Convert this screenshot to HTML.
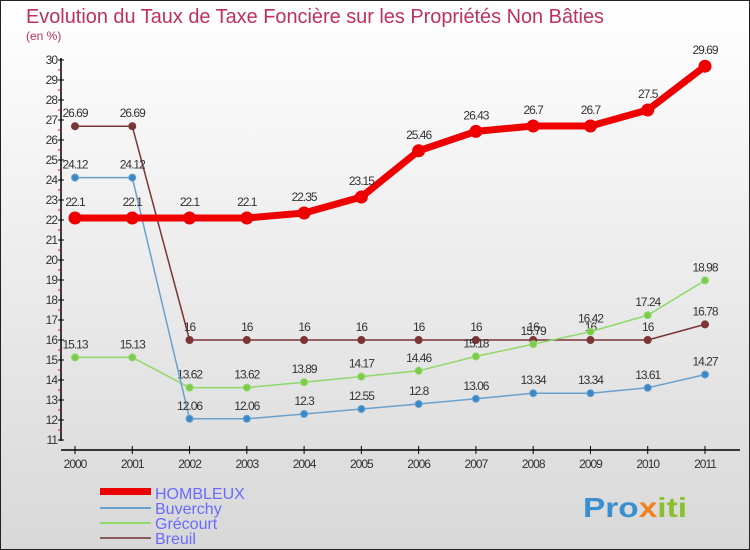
<!DOCTYPE html>
<html><head><meta charset="utf-8"><style>
body{margin:0;}
svg{display:block;font-family:"Liberation Sans",sans-serif;}
</style></head><body>
<svg width="750" height="550" viewBox="0 0 750 550">
<defs><linearGradient id="bg" x1="0" y1="0" x2="0" y2="1"><stop offset="0" stop-color="#ffffff"/><stop offset="1" stop-color="#d8d8d8"/></linearGradient></defs>
<rect x="0.5" y="0.5" width="749" height="549" fill="url(#bg)" stroke="#222"/>
<text x="26" y="23" font-size="20" fill="#c0305a" textLength="578" lengthAdjust="spacingAndGlyphs">Evolution du Taux de Taxe Foncière sur les Propriétés Non Bâties</text>
<text x="26" y="40" font-size="12" fill="#c0305a">(en %)</text>
<g id="axes"></g>
<g id="series"></g>
<g>
<rect x="100" y="488" width="51" height="7" fill="#e00"/>
<text x="155" y="499" font-size="16" fill="#6a6aff">HOMBLEUX</text>
<line x1="100" y1="508" x2="151" y2="508" stroke="#6aa0cc" stroke-width="2"/>
<text x="155" y="514" font-size="16" fill="#6a6aff">Buverchy</text>
<line x1="100" y1="523" x2="151" y2="523" stroke="#8fd86a" stroke-width="2"/>
<text x="155" y="529" font-size="16" fill="#6a6aff">Grécourt</text>
<line x1="100" y1="538" x2="151" y2="538" stroke="#8a5a5a" stroke-width="2"/>
<text x="155" y="544" font-size="16" fill="#6a6aff">Breuil</text>
</g>
<text x="583" y="517" font-size="28" font-weight="bold" textLength="104" lengthAdjust="spacingAndGlyphs"><tspan fill="#3a8fd0">Pro</tspan><tspan fill="#f08020">x</tspan><tspan fill="#8ac030">iti</tspan></text>
</svg>
<script>
const years=[2000,2001,2002,2003,2004,2005,2006,2007,2008,2009,2010,2011];
const hombleux=[22.1,22.1,22.1,22.1,22.35,23.15,25.46,26.43,26.7,26.7,27.5,29.69];
const buverchy=[24.12,24.12,12.06,12.06,12.3,12.55,12.8,13.06,13.34,13.34,13.61,14.27];
const grecourt=[15.13,15.13,13.62,13.62,13.89,14.17,14.46,15.18,15.79,16.42,17.24,18.98];
const breuil=[26.69,26.69,16,16,16,16,16,16,16,16,16,16.78];
const yTicks=[11,12,13,14,15,16,17,18,19,20,21,22,23,24,25,26,27,28,29,30];
const NS="http://www.w3.org/2000/svg";
const X=i=>75+i*(630/11);
const Y=v=>440-(v-11)*(380/19);
function mk(tag,attrs,parent,txt){const e=document.createElementNS(NS,tag);for(const k in attrs)e.setAttribute(k,attrs[k]);if(txt!==undefined)e.textContent=txt;parent.appendChild(e);return e;}
const ax=document.getElementById('axes');
let e=mk('line',{x1:61,y1:58,x2:61,y2:441,stroke:'#000','stroke-width':1.5},ax);


e=mk('line',{x1:61,y1:450,x2:740,y2:450,stroke:'#000','stroke-width':1.5},ax);


yTicks.forEach(v=>{
 mk('line',{x1:58,y1:Y(v),x2:64,y2:Y(v),stroke:'#000'},ax);
 if(v<30)mk('line',{x1:58,y1:Y(v+0.5),x2:61,y2:Y(v+0.5),stroke:'#e00'},ax);
 e=mk('text',{x:57,y:Y(v)+4,'font-size':12,fill:'#333','text-anchor':'end','letter-spacing':'-1'},ax,String(v));
 
 
});
years.forEach((y,i)=>{
 mk('line',{x1:X(i),y1:446,x2:X(i),y2:454,stroke:'#000'},ax);
 e=mk('text',{x:X(i),y:468,'font-size':12,fill:'#333','text-anchor':'middle','letter-spacing':'-1'},ax,String(y));
 
 
});
const sg=document.getElementById('series');
function series(vals,name,color,w,r,fill,labelDy){
 const g=mk('g',{},sg);
 
 
 mk('polyline',{points:vals.map((v,i)=>X(i)+','+Y(v)).join(' '),fill:'none',stroke:color,'stroke-width':w,'stroke-linejoin':'round'},g);
 vals.forEach((v,i)=>{
  const c=mk('circle',{cx:X(i),cy:Y(v),r:r,fill:fill,stroke:color,'stroke-width':1},g);
  
  
  const t=mk('text',{x:X(i),y:Y(v)+labelDy,'font-size':12,fill:'#333','text-anchor':'middle','letter-spacing':'-1'},g,String(v));
  
  
 });
}
series(breuil,'breuil','#7a3535',1.5,3.5,'#7a3535',-9);
series(grecourt,'grecourt','#8fd86a',1.5,3.5,'#7ecb4a',-9);
series(buverchy,'buverchy','#6aa0cc',1.5,3.5,'#3a88c8',-9);
series(hombleux,'hombleux','#e00',7,6,'#e00',-12);
</script>
</body></html>
